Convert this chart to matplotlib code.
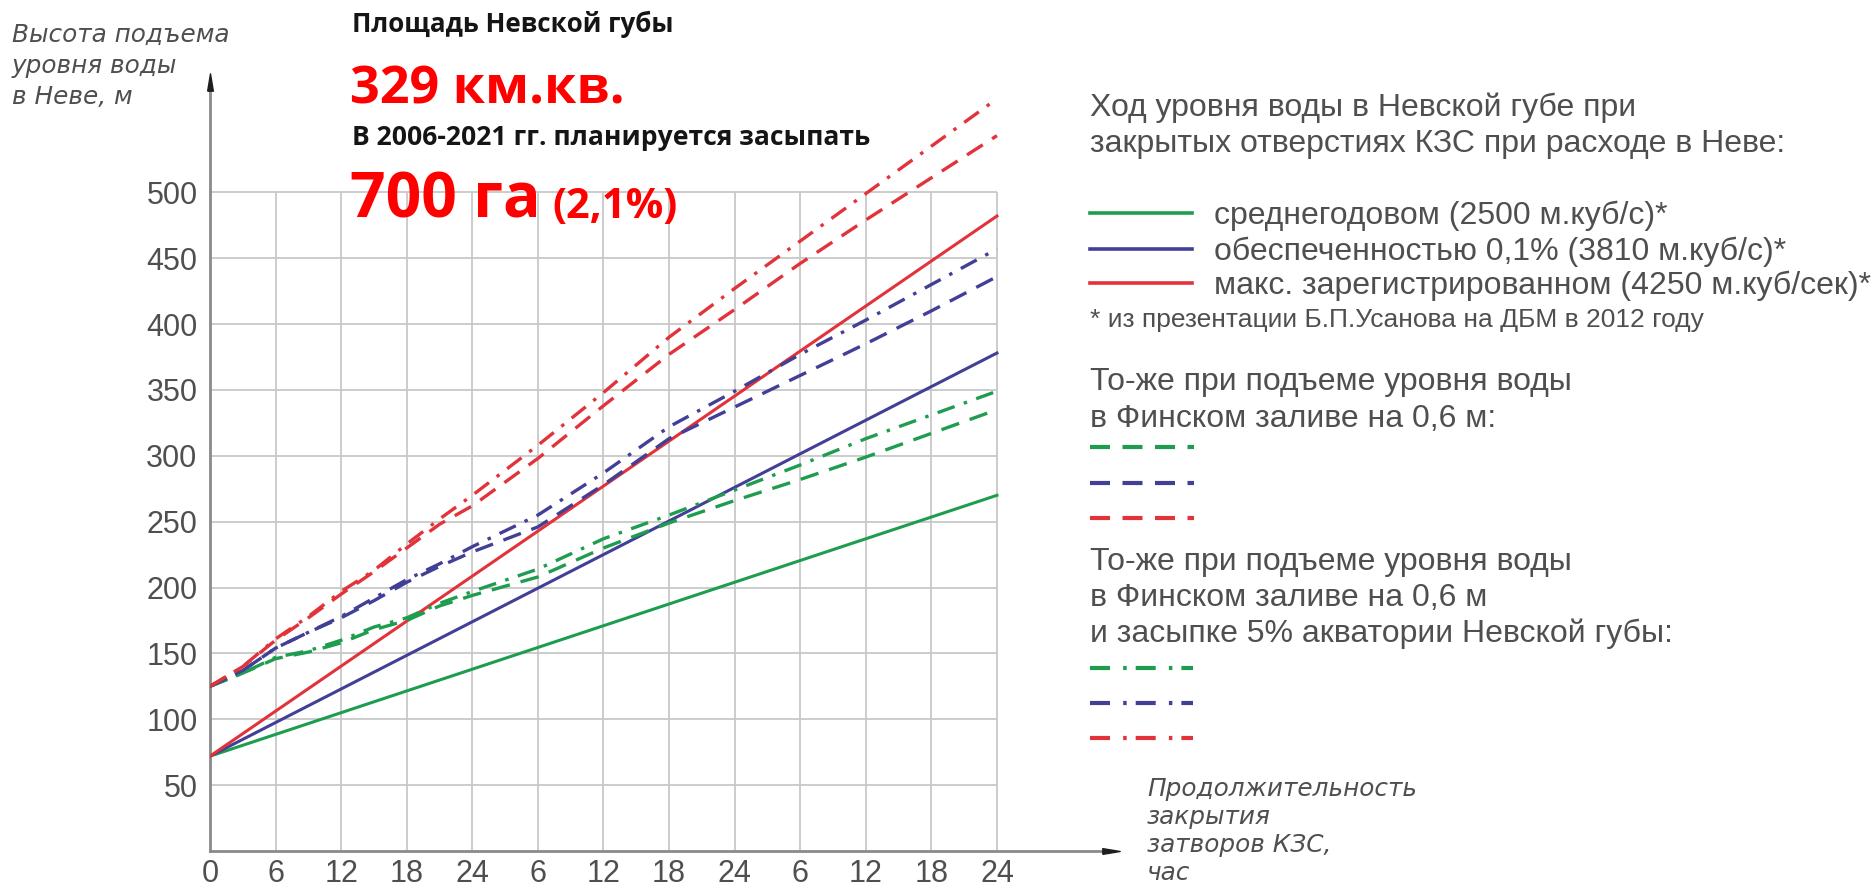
import matplotlib
matplotlib.use("Agg")
import matplotlib.pyplot as plt

# ---------------- data ----------------
hours = [0, 3, 6, 9, 12, 15, 18, 21, 24, 30, 36, 42, 48, 54, 60, 66, 72]
solid_hours = [0, 72]
green_solid = [72, 270]
blue_solid = [72, 378]
red_solid = [72, 482]

green_dashed = [125, 135, 146, 151, 158, 168, 175, 186, 194, 208, 230, 249, 266, 282, 299, 317, 335]
blue_dashed = [125, 137, 154, 166, 177, 190, 204, 216, 227, 246, 278, 313, 337, 361, 385, 410, 436]
red_dashed = [125, 140, 160, 177, 195, 212, 230, 248, 262, 298, 338, 377, 411, 446, 479, 511, 543]
green_dashdot = [125, 135, 147, 152, 160, 170, 177, 188, 197, 214, 237, 255, 274, 293, 313, 331, 349]
blue_dashdot = [125, 137, 154, 166, 178, 192, 206, 218, 231, 255, 287, 322, 349, 377, 403, 430, 457]
red_dashdot = [125, 140, 161, 178, 197, 213, 233, 252, 270, 308, 348, 390, 427, 463, 499, 535, 571]

xtick_positions = [0, 6, 12, 18, 24, 30, 36, 42, 48, 54, 60, 66, 72]
xtick_labels = ["0", "6", "12", "18", "24", "6", "12", "18", "24", "6", "12", "18", "24"]
ytick_values = [50, 100, 150, 200, 250, 300, 350, 400, 450, 500]

legend_solid = ["среднегодовом (2500 м.куб/с)*",
                "обеспеченностью 0,1% (3810 м.куб/с)*",
                "макс. зарегистрированном (4250 м.куб/сек)*"]

# ---------------- style ----------------
plt.rcParams['font.family'] = ['Liberation Sans', 'DejaVu Sans']
plt.rcParams['lines.scale_dashes'] = False

GREEN = '#1f9d4f'
BLUE = '#423f96'
RED = '#e2333b'
GRID = '#c8c8c8'
AXC = '#8a8a8a'
TXT = '#4f4f4f'

W, H = 1874, 890
X0, PXH = 210.0, 10.93        # pixel of hour 0, pixels per hour
Y0, PXU = 851.0, 1.3174       # pixel of value 0, pixels per unit
RIGHT, TOP = 1111.5, 81.5

fig = plt.figure(figsize=(W / 100, H / 100), dpi=100)
ax = fig.add_axes([X0 / W, (H - Y0) / H, (RIGHT - X0) / W, (Y0 - TOP) / H])
ax.set_xlim(0, (RIGHT - X0) / PXH)
ax.set_ylim(0, (Y0 - TOP) / PXU)

for s in ['top', 'right']:
    ax.spines[s].set_visible(False)
for s in ['left', 'bottom']:
    ax.spines[s].set_color(AXC)
    ax.spines[s].set_linewidth(2.0)

ax.hlines(ytick_values, 0, 72, colors=GRID, lw=1.3, zorder=0.5)
ax.vlines(xtick_positions[1:], 0, 500, colors=GRID, lw=1.3, zorder=0.5)

ax.set_xticks(xtick_positions, xtick_labels)
ax.set_yticks(ytick_values, [str(v) for v in ytick_values])
ax.tick_params(axis='both', length=0, labelsize=22, labelcolor=TXT)
ax.tick_params(axis='y', pad=9)
ax.tick_params(axis='x', pad=6)

# arrows
right_arrow = [(-1, -0.33), (1, 0), (-1, 0.33), (-1, -0.33)]
up_arrow = [(-0.33, -1), (0, 1), (0.33, -1), (-0.33, -1)]
ax.plot([1], [0], marker=right_arrow, ms=12.5, color='#1e1e1e', transform=ax.transAxes, clip_on=False, zorder=6)
ax.plot([0], [1], marker=up_arrow, ms=12.5, color='#1e1e1e', transform=ax.transAxes, clip_on=False, zorder=6)

DASH = (0, (13.5, 8))
DASHDOT = (0, (13, 7, 2.5, 7))

ax.plot(solid_hours, green_solid, color=GREEN, lw=2.2, zorder=3)
ax.plot(solid_hours, blue_solid, color=BLUE, lw=2.2, zorder=3)
ax.plot(solid_hours, red_solid, color=RED, lw=2.2, zorder=3)
ax.plot(hours, green_dashed, color=GREEN, lw=2.4, ls=DASH, zorder=3)
ax.plot(hours, blue_dashed, color=BLUE, lw=2.4, ls=DASH, zorder=3)
ax.plot(hours, red_dashed, color=RED, lw=2.4, ls=DASH, zorder=3)
ax.plot(hours, green_dashdot, color=GREEN, lw=2.4, ls=DASHDOT, zorder=3)
ax.plot(hours, blue_dashdot, color=BLUE, lw=2.4, ls=DASHDOT, zorder=3)
ax.plot(hours, red_dashdot, color=RED, lw=2.4, ls=DASHDOT, zorder=3)

# ---------------- overlay in pixel coordinates ----------------
ov = fig.add_axes([0, 0, 1, 1], zorder=5)
ov.set_xlim(0, W)
ov.set_ylim(H, 0)
ov.axis('off')
ov.patch.set_alpha(0)

# axis labels
ital = dict(family=['DejaVu Sans'], style='italic', color=TXT, fontsize=17.8, va='baseline')
for txt, yb in zip(["Высота подъема", "уровня воды", "в Неве, м"], [42, 73, 104]):
    ov.text(12, yb, txt, **ital)
for txt, yb in zip(["Продолжительность", "закрытия", "затворов КЗС,", "час"], [796, 824, 852, 880]):
    ov.text(1147, yb, txt, **ital)

# titles
bold = dict(family=['Open Sans', 'DejaVu Sans'], fontweight='bold', va='baseline')
ov.text(352, 32, "Площадь Невской губы", color='#151515', fontsize=18.7, **bold)
ov.text(350, 104, "329 км.кв.", color='#ff0000', fontsize=37.5, **bold)
ov.text(352, 145, "В 2006-2021 гг. планируется засыпать", color='#151515', fontsize=19.1, **bold)
ov.text(350, 218, "700 га", color='#ff0000', fontsize=45, **bold)
ov.text(552, 218, "(2,1%)", color='#ff0000', fontsize=30, **bold)

# right legend
reg = dict(color=TXT, fontsize=23, va='baseline')
ov.text(1090, 116, "Ход уровня воды в Невской губе при", **reg)
ov.text(1090, 152, "закрытых отверстиях КЗС при расходе в Неве:", **reg)
for c, yl, txt in zip([GREEN, BLUE, RED], [213, 249, 283], legend_solid):
    ov.plot([1090, 1192], [yl, yl], color=c, lw=2.6)
    ov.text(1214, yl + 11, txt, **reg)
ov.text(1090, 327, "* из презентации Б.П.Усанова на ДБМ в 2012 году", color=TXT, fontsize=19, va='baseline')

ov.text(1090, 390, "То-же при подъеме уровня воды", **reg)
ov.text(1090, 427, "в Финском заливе на 0,6 м:", **reg)
for c, yl in zip([GREEN, BLUE, RED], [447, 483, 518]):
    ov.plot([1090, 1194], [yl, yl], color=c, lw=3.0, ls=(0, (14.4, 9)))

ov.text(1090, 570, "То-же при подъеме уровня воды", **reg)
ov.text(1090, 606, "в Финском заливе на 0,6 м", **reg)
ov.text(1090, 642, "и засыпке 5% акватории Невской губы:", **reg)
for c, yl in zip([GREEN, BLUE, RED], [668, 703, 738]):
    ov.plot([1090, 1193], [yl, yl], color=c, lw=3.0, ls=(0, (14.4, 9.5, 2.5, 6.5)))

fig.savefig("out.png", dpi=100, facecolor='white')
